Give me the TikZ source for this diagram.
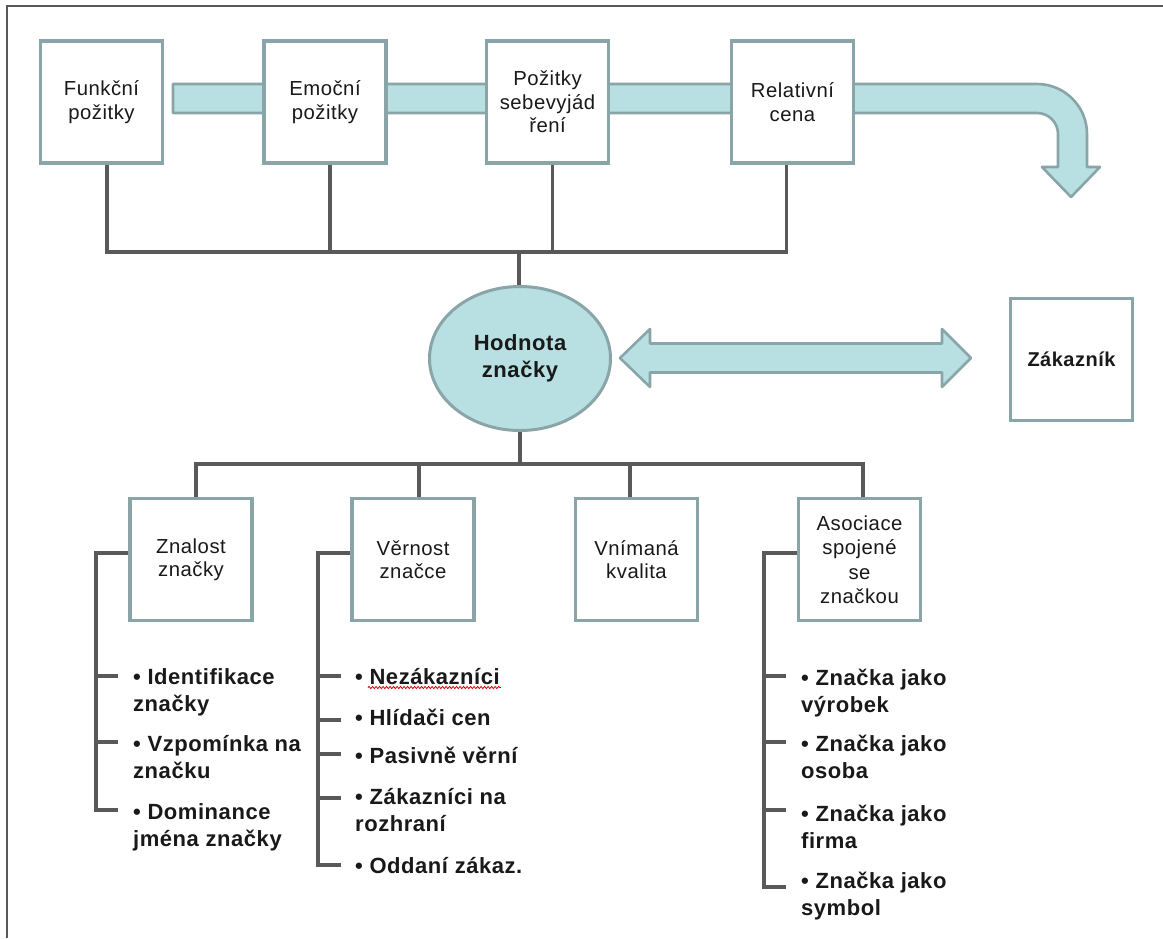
\documentclass[tikz,border=0pt]{standalone}
\usepackage{fontspec}
\setmainfont{Liberation Sans}[LetterSpace=2.5]
\usetikzlibrary{shapes.geometric,decorations.pathmorphing}

\definecolor{boxline}{RGB}{138,165,167}
\definecolor{fillblue}{RGB}{184,223,226}
\definecolor{linkgray}{RGB}{89,89,89}
\definecolor{ink}{RGB}{25,25,25}

\tikzset{
  box/.style={draw=boxline, line width=3.4pt, fill=white, text=ink,
    minimum width=122pt, minimum height=122pt, inner sep=0pt,
    align=center, font=\fontsize{20.3}{23.5}\selectfont},
  link/.style={draw=linkgray, line width=3.4pt},
  frameline/.style={draw=linkgray, line width=2.2pt},
  item/.style={anchor=north west, inner sep=0pt, align=left, text=ink,
    font=\bfseries\fontsize{22}{27.5}\selectfont},
  band/.style={draw=boxline, fill=fillblue, line width=2.6pt, line join=round},
  squiggle/.style={draw=red!85!black, line width=0.8pt, decorate,
    decoration={snake, amplitude=1.1pt, segment length=3.5pt}}
}

\begin{document}
\begin{tikzpicture}[x=1pt,y=-1pt]
\useasboundingbox (0,0) rectangle (1163,938);

% page frame (top and left edges)
\draw[frameline] (7,938) -- (7,6) -- (1163,6);

% broad bent arrow running behind the top row
\path[band] (173,84) -- (1037,84)
  .. controls (1064.6,84) and (1087,106.4) .. (1087,134)
  -- (1087,167) -- (1100,167) -- (1071,197) -- (1042,167) -- (1058,167)
  -- (1058,134)
  .. controls (1058,122.4) and (1048.6,113) .. (1037,113)
  -- (173,113) -- cycle;

% top row of benefits
\node[box] (T1) at (101.5,102) {Funkční\\požitky};
\node[box] (T2) at (325,102) {Emoční\\požitky};
\node[box] (T3) at (547.5,102) {Požitky\\sebevyjád\\ření};
\node[box] (T4) at (792.5,102) {Relativní\\cena};

% central brand value
\node[ellipse, draw=boxline, fill=fillblue, line width=3pt, text=ink,
      minimum width=181pt, minimum height=144pt, inner sep=0pt,
      align=center, font=\bfseries\fontsize{22}{27}\selectfont]
      (H) at (520,358.5) {Hodnota\\značky};

% customer
\node[box, font=\bfseries\fontsize{20}{24}\selectfont] (Z) at (1071.5,359.5) {Zákazník};

% two-way arrow between brand value and customer
\path[band] (620,358) -- (650,329) -- (650,343.5) -- (942,343.5) -- (942,329)
  -- (971,358) -- (942,387) -- (942,372.5) -- (650,372.5) -- (650,387) -- cycle;

% bottom row of components
\node[box] (B1) at (191,559.5) {Znalost\\značky};
\node[box] (B2) at (413,559.5) {Věrnost\\značce};
\node[box] (B3) at (636.5,559.5) {Vnímaná\\kvalita};
\node[box, font=\fontsize{20.3}{24.5}\selectfont] (B4) at (859.5,559.5) {Asociace\\spojené\\se\\značkou};

% upper bus
\coordinate (jt) at (519,252);
\coordinate (p1) at ([xshift=5.5]T1.south);
\coordinate (p2) at ([xshift=5]T2.south);
\coordinate (p3) at ([xshift=5]T3.south);
\coordinate (p4) at ([xshift=-6]T4.south);
\draw[link] (p1) |- (jt) -| (p4);
\draw[link] (p2) -- (p2 |- jt);
\draw[link] (p3) -- (p3 |- jt);
\draw[link] (jt) -- (jt |- H.north);

% lower bus
\coordinate (jb) at (520,464);
\coordinate (q1) at ([xshift=5]B1.north);
\coordinate (q2) at ([xshift=6]B2.north);
\coordinate (q3) at ([xshift=-6.5]B3.north);
\coordinate (q4) at ([xshift=3.5]B4.north);
\draw[link] (H.south) -- (H.south |- jb);
\draw[link] (q1) |- (jb) -| (q4);
\draw[link] (q2) -- (q2 |- jb);
\draw[link] (q3) -- (q3 |- jb);

% items: brand awareness
\node[item] (a1) at (133,664.75) {\strut • Identifikace\\\strut značky};
\node[item] (a2) at (133,731.75) {\strut • Vzpomínka na\\\strut značku};
\node[item] (a3) at (133,799.75) {\strut • Dominance\\\strut jména značky};
\coordinate (as) at (96,810);
\coordinate (at1) at (118,676);
\coordinate (at2) at (118,742);
\coordinate (at3) at (118,810);
\draw[link] ([yshift=6.5]B1.west) -| (as) -- (at3);
\draw[link] (at1 -| as) -- (at1);
\draw[link] (at2 -| as) -- (at2);

% items: brand loyalty
\node[item] (b1) at (355,664.75) {\strut • Nezákazníci};
\node[item] (b2) at (355,705.75) {\strut • Hlídači cen};
\node[item] (b3) at (355,743.75) {\strut • Pasivně věrní};
\node[item] (b4) at (355,784.75) {\strut • Zákazníci na\\\strut rozhraní};
\node[item] (b5) at (355,853.75) {\strut • Oddaní zákaz.};
\coordinate (bs) at (318,865);
\coordinate (bt1) at (341,676);
\coordinate (bt2) at (341,720);
\coordinate (bt3) at (341,754);
\coordinate (bt4) at (341,798);
\coordinate (bt5) at (341,865);
\draw[link] ([yshift=6.5]B2.west) -| (bs) -- (bt5);
\draw[link] (bt1 -| bs) -- (bt1);
\draw[link] (bt2 -| bs) -- (bt2);
\draw[link] (bt3 -| bs) -- (bt3);
\draw[link] (bt4 -| bs) -- (bt4);
\draw[squiggle] (368,687.5) -- (501,687.5);

% items: brand associations
\node[item] (c1) at (801,665.75) {\strut • Značka jako\\\strut výrobek};
\node[item] (c2) at (801,731.75) {\strut • Značka jako\\\strut osoba};
\node[item] (c3) at (801,801.75) {\strut • Značka jako\\\strut firma};
\node[item] (c4) at (801,868.75) {\strut • Značka jako\\\strut symbol};
\coordinate (cs) at (764,887);
\coordinate (ct1) at (786,676);
\coordinate (ct2) at (786,742);
\coordinate (ct3) at (786,810);
\coordinate (ct4) at (786,887);
\draw[link] ([yshift=6.5]B4.west) -| (cs) -- (ct4);
\draw[link] (ct1 -| cs) -- (ct1);
\draw[link] (ct2 -| cs) -- (ct2);
\draw[link] (ct3 -| cs) -- (ct3);
\end{tikzpicture}
\end{document}
